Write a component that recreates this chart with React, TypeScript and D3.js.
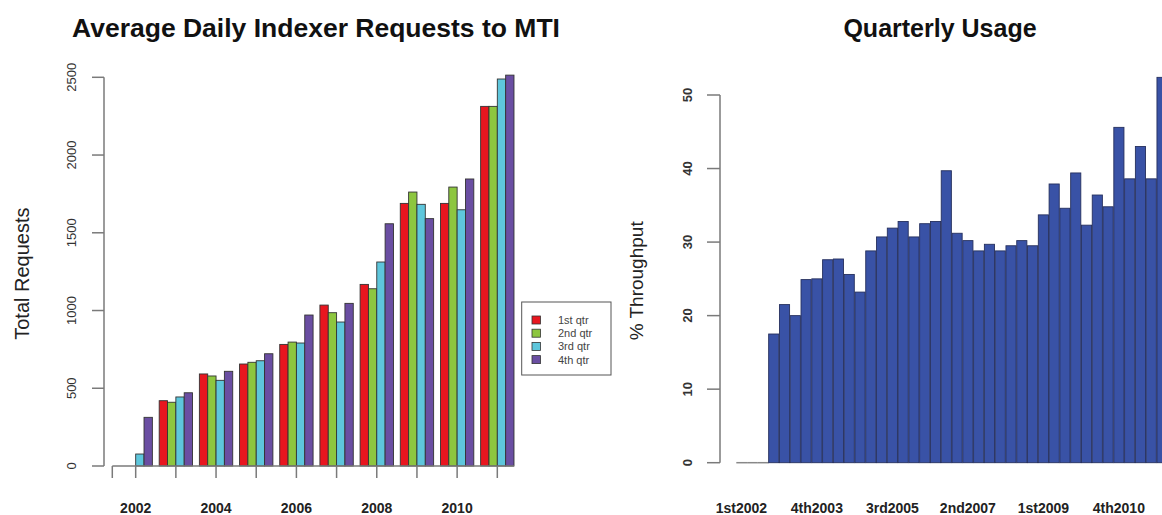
import React from 'react';
import * as d3 from 'd3';

const years = [2002, 2003, 2004, 2005, 2006, 2007, 2008, 2009, 2010, 2011];
const quarters = ['1st qtr', '2nd qtr', '3rd qtr', '4th qtr'];
const q1 = [0, 420, 592, 656, 782, 1035, 1168, 1689, 1689, 2313];
const q2 = [0, 410, 579, 667, 797, 986, 1140, 1762, 1794, 2313];
const q3 = [77, 444, 551, 677, 791, 926, 1312, 1683, 1648, 2489];
const q4 = [313, 471, 609, 722, 971, 1046, 1558, 1591, 1846, 2514];
const requestTicks = [0, 500, 1000, 1500, 2000, 2500];
const yearLabels = ['2002', '', '2004', '', '2006', '', '2008', '', '2010', ''];
const quarterColors = ['#e8161f', '#8dc63f', '#5ec6dc', '#6a4ea2'];

const quarterNames = ['1st', '2nd', '3rd', '4th'];
const usageQuarters = years.flatMap((y) => quarterNames.map((q) => q + y));
const usage = [
  0, 0, 0, 17.5,
  21.5, 20.0, 24.9, 25.0,
  27.6, 27.7, 25.6, 23.2,
  28.8, 30.7, 31.9, 32.8,
  30.7, 32.5, 32.8, 39.7,
  31.2, 30.2, 28.8, 29.7,
  28.8, 29.5, 30.2, 29.5,
  33.7, 37.9, 34.6, 39.4,
  32.3, 36.4, 34.8, 45.6,
  38.6, 43.0, 38.6, 52.4,
];
const usageTicks = [0, 10, 20, 30, 40, 50];
const usageLabels = ['1st2002', '4th2003', '3rd2005', '2nd2007', '1st2009', '4th2010'];

const font = '"Liberation Sans", Arial, sans-serif';
const axisColor = '#7a7a7a';

function RequestsChart() {
  const series = [q1, q2, q3, q4];
  const x0 = d3.scaleBand<number>().domain(years).range([115.6, 517.4]).paddingInner(0.17).paddingOuter(0.085);
  const x1 = d3.scaleBand<string>().domain(quarters).range([0, x0.bandwidth()]);
  const y = d3.scaleLinear().domain([0, 2500]).range([466, 77.3]);
  const axisY = 104;
  const baseY = y(0);
  const firstTick = 112.3;
  const tickXs = [firstTick, ...years.map((yr) => x0(yr)! + x0.bandwidth() / 2)];

  return (
    <g>
      <text x={316} y={37} textAnchor="middle" fontFamily={font} fontWeight="bold" fontSize={26.5} fill="#111">
        Average Daily Indexer Requests to MTI
      </text>
      <text transform={`translate(22,${(y(0) + y(2500)) / 2 + 2}) rotate(-90)`} textAnchor="middle" dominantBaseline="central"
        fontFamily={font} fontSize={20} fill="#222">Total Requests</text>
      {/* y axis */}
      <line x1={axisY} x2={axisY} y1={y(0)} y2={y(2500)} stroke={axisColor} strokeWidth={1.5} />
      {requestTicks.map((t) => (
        <g key={t}>
          <line x1={axisY - 12} x2={axisY} y1={y(t)} y2={y(t)} stroke={axisColor} strokeWidth={1.5} />
          <text transform={`translate(71,${y(t)}) rotate(-90)`} textAnchor="middle" dominantBaseline="central"
            fontFamily={font} fontSize={13} fill="#333">{t}</text>
        </g>
      ))}
      {/* bars */}
      {years.map((yr, i) => (
        <g key={yr} transform={`translate(${x0(yr)},0)`}>
          {series.map((s, k) => (
            <rect key={k} x={x1(quarters[k])} width={x1.bandwidth()} y={y(s[i])} height={baseY - y(s[i])}
              fill={quarterColors[k]} stroke="#333" strokeWidth={0.9} />
          ))}
        </g>
      ))}
      {/* x axis */}
      <line x1={firstTick} x2={514} y1={baseY} y2={baseY} stroke={axisColor} strokeWidth={1.5} />
      {tickXs.map((tx, i) => (
        <line key={i} x1={tx} x2={tx} y1={baseY} y2={baseY + 12} stroke={axisColor} strokeWidth={1.5} />
      ))}
      {years.map((yr, i) => (
        <text key={yr} x={x0(yr)! + x0.bandwidth() / 2} y={508} textAnchor="middle" dominantBaseline="central"
          fontFamily={font} fontWeight="bold" fontSize={14} fill="#222">{yearLabels[i]}</text>
      ))}
      {/* legend */}
      <rect x={521.7} y={302} width={89.3} height={73} fill="#fff" stroke="#555" strokeWidth={1} />
      {quarters.map((q, k) => (
        <g key={q} transform={`translate(0,${320 + k * 13.2})`}>
          <rect x={532} y={-4} width={8.5} height={8} fill={quarterColors[k]} stroke="#333" strokeWidth={0.8} />
          <text x={558} y={0} dominantBaseline="central" fontFamily={font} fontSize={11} fill="#444">{q}</text>
        </g>
      ))}
    </g>
  );
}

function UsageChart() {
  const x = d3.scaleBand<string>().domain(usageQuarters).range([736.3, 736.3 + 40 * 10.77]).paddingInner(0.06);
  const y = d3.scaleLinear().domain([0, 50]).range([462.7, 95]);
  const axisX = 720;
  const baseY = y(0);

  return (
    <g>
      <text x={940} y={37} textAnchor="middle" fontFamily={font} fontWeight="bold" fontSize={25} fill="#111">
        Quarterly Usage
      </text>
      <text transform={`translate(636,${(y(0) + y(50)) / 2 + 2}) rotate(-90)`} textAnchor="middle" dominantBaseline="central"
        fontFamily={font} fontSize={19} fill="#222">% Throughput</text>
      <line x1={axisX} x2={axisX} y1={y(0)} y2={y(50)} stroke={axisColor} strokeWidth={1.5} />
      {usageTicks.map((t) => (
        <g key={t}>
          <line x1={axisX - 13} x2={axisX} y1={y(t)} y2={y(t)} stroke={axisColor} strokeWidth={1.5} />
          <text transform={`translate(687,${y(t)}) rotate(-90)`} textAnchor="middle" dominantBaseline="central"
            fontFamily={font} fontWeight="bold" fontSize={13} fill="#333">{t}</text>
        </g>
      ))}
      {usageQuarters.map((q, i) =>
        usage[i] === 0 ? (
          <line key={q} x1={x(q)} x2={x(q)! + x.step()} y1={baseY} y2={baseY} stroke="#888" strokeWidth={1.5} />
        ) : (
          <rect key={q} x={x(q)} width={x.bandwidth()} y={y(usage[i])} height={baseY - y(usage[i])}
            fill="#3952a6" stroke="#26305e" strokeWidth={0.9} />
        )
      )}
      {usageLabels.map((l) => (
        <text key={l} x={x(l)! + x.bandwidth() / 2} y={508} textAnchor="middle" dominantBaseline="central"
          fontFamily={font} fontWeight="bold" fontSize={14} fill="#222">{l}</text>
      ))}
    </g>
  );
}

export default function App() {
  return (
    <svg width={1162} height={515} style={{ position: 'absolute', left: 0, top: 0, background: '#fff' }}>
      <rect width={1162} height={515} fill="#fff" />
      <RequestsChart />
      <UsageChart />
    </svg>
  );
}
